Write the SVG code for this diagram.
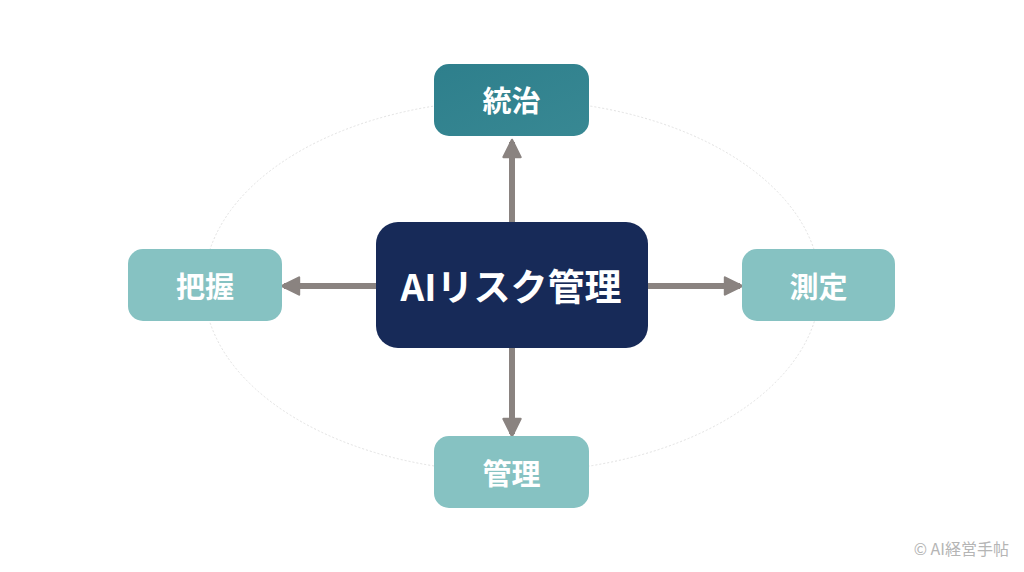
<svg xmlns="http://www.w3.org/2000/svg" width="1024" height="572" viewBox="0 0 1024 572">
<defs>
<linearGradient id="gTop" x1="0" y1="0" x2="1" y2="1">
<stop offset="0" stop-color="#2e7f8c"/>
<stop offset="1" stop-color="#388893"/>
</linearGradient>
<marker id="ah" viewBox="0 0 10 10" refX="8" refY="5" markerWidth="3.6" markerHeight="3.6" orient="auto" markerUnits="strokeWidth">
<path d="M1,1 L9,5 L1,9 Z" fill="#8a8380" stroke="#8a8380" stroke-width="1" stroke-linejoin="round"/>
</marker>
<style>
.lbl{font-family:"Noto Sans CJK JP","Noto Sans",sans-serif;font-weight:700;fill:#ffffff;text-anchor:middle;dominant-baseline:central}
.side{fill:#86c2c2}
.conn{stroke:#8a8380;stroke-width:6;fill:none;marker-end:url(#ah)}
</style>
</defs>
<rect width="1024" height="572" fill="#ffffff"/>
<ellipse cx="512" cy="286" rx="308" ry="186" fill="none" stroke="#e2e2e2" stroke-width="1" stroke-dasharray="2 2"/>
<g id="connectors">
<line class="conn" x1="512" y1="222" x2="512" y2="142"/>
<line class="conn" x1="376" y1="286" x2="284" y2="286"/>
<line class="conn" x1="648" y1="286" x2="740" y2="286"/>
<line class="conn" x1="512" y1="348" x2="512" y2="434"/>
</g>
<g id="center">
<rect x="376" y="222" width="272" height="126" rx="22" fill="#172a58"/>
<text class="lbl" x="511" y="285" font-size="37">AIリスク管理</text>
</g>
<g id="top">
<rect x="434" y="64" width="155" height="72" rx="15" fill="url(#gTop)"/>
<text class="lbl" x="511.5" y="99" font-size="29">統治</text>
</g>
<g id="left">
<rect class="side" x="128" y="249" width="154" height="72" rx="15"/>
<text class="lbl" x="205" y="285" font-size="29">把握</text>
</g>
<g id="right">
<rect class="side" x="742" y="249" width="153" height="72" rx="15"/>
<text class="lbl" x="818.5" y="285" font-size="29">測定</text>
</g>
<g id="bottom">
<rect class="side" x="434" y="436" width="155" height="72" rx="15"/>
<text class="lbl" x="511.5" y="472" font-size="29">管理</text>
</g>
<text x="1009" y="548" font-family="'Noto Sans CJK JP','Noto Sans',sans-serif" font-size="16" fill="#b5b5b5" text-anchor="end" dominant-baseline="central">© AI経営手帖</text>
</svg>
